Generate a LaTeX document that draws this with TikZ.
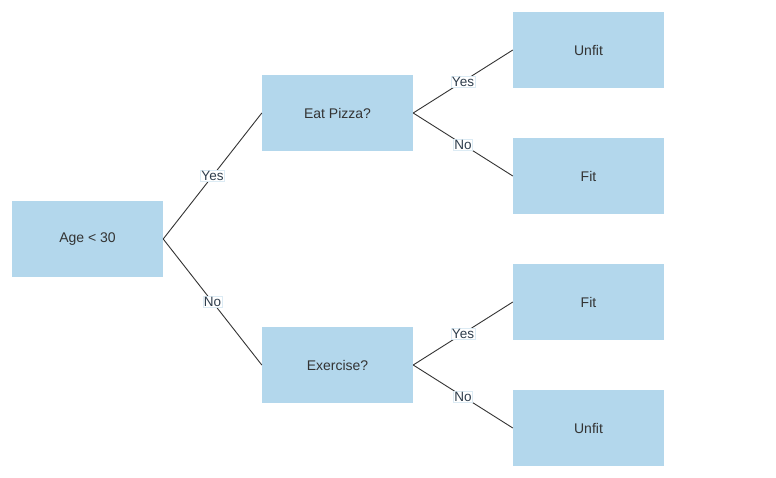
\documentclass[tikz,border=0pt]{standalone}
\usepackage{fontspec}
\setmainfont{Liberation Sans}
\definecolor{boxblue}{HTML}{B3D7EC}
\definecolor{txt}{HTML}{333333}
\definecolor{lbl}{HTML}{2E3D4C}
\definecolor{edge}{HTML}{333333}
\definecolor{lblborder}{HTML}{DCEBF4}
\begin{document}
\begin{tikzpicture}[x=1pt,y=-1pt,
  box/.style={fill=boxblue,draw=none,minimum width=151pt,minimum height=76pt,inner sep=0pt,text=txt,font=\fontsize{14}{16}\selectfont},
  conn/.style={draw=edge,line width=0.9pt},
  lab/.style={fill=white,draw=lblborder,line width=0.5pt,inner sep=1pt,text=lbl,font=\fontsize{13.5}{15}\selectfont}]
\useasboundingbox (0,0) rectangle (776,478);
\node[box] (age) at (87.5,239) {Age < 30};
\node[box] (pizza) at (337.5,113) {Eat Pizza?};
\node[box] (ex) at (337.5,365) {Exercise?};
\node[box] (u1) at (588.5,50) {Unfit};
\node[box] (f1) at (588.5,176) {Fit};
\node[box] (f2) at (588.5,302) {Fit};
\node[box] (u2) at (588.5,428) {Unfit};
\draw[conn] (age.east) -- node[lab]{Yes} (pizza.west);
\draw[conn] (age.east) -- node[lab]{No} (ex.west);
\draw[conn] (pizza.east) -- node[lab]{Yes} (u1.west);
\draw[conn] (pizza.east) -- node[lab]{No} (f1.west);
\draw[conn] (ex.east) -- node[lab]{Yes} (f2.west);
\draw[conn] (ex.east) -- node[lab]{No} (u2.west);
\end{tikzpicture}
\end{document}
